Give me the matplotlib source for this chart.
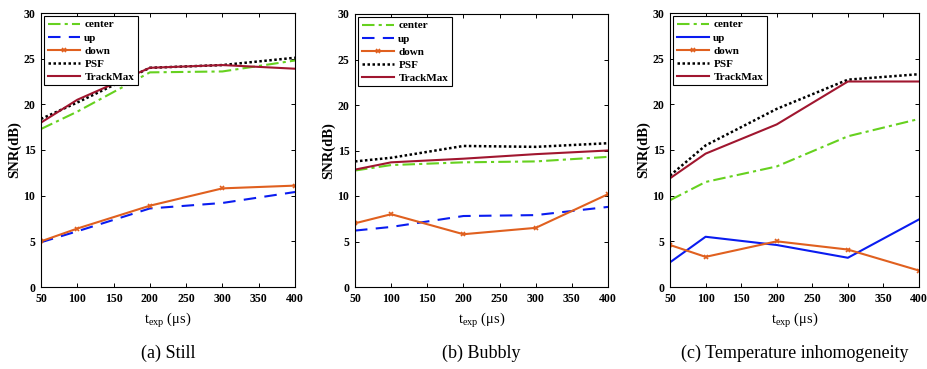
import matplotlib
matplotlib.use("Agg")
import matplotlib.pyplot as plt

plt.rcParams['font.family'] = ['Liberation Serif', 'DejaVu Serif']
plt.rcParams['mathtext.fontset'] = 'custom'
plt.rcParams['mathtext.rm'] = 'Liberation Serif'
plt.rcParams['mathtext.it'] = 'Liberation Serif'
plt.rcParams['mathtext.bf'] = 'Liberation Serif:bold'

x = [50, 100, 200, 300, 400]
series_names = ['center', 'up', 'down', 'PSF', 'TrackMax']

a_center = [17.3, 19.2, 23.5, 23.6, 24.8]
a_up = [4.9, 6.1, 8.6, 9.2, 10.4]
a_down = [5.0, 6.4, 8.9, 10.8, 11.1]
a_psf = [18.4, 20.2, 24.0, 24.3, 25.1]
a_track = [18.0, 20.5, 24.0, 24.3, 23.9]

b_center = [12.8, 13.4, 13.7, 13.8, 14.3]
b_up = [6.2, 6.6, 7.8, 7.9, 8.8]
b_down = [7.0, 8.0, 5.8, 6.5, 10.2]
b_psf = [13.8, 14.2, 15.5, 15.4, 15.8]
b_track = [12.9, 13.7, 14.1, 14.6, 15.0]

c_center = [9.5, 11.5, 13.2, 16.5, 18.4]
c_up = [2.7, 5.5, 4.6, 3.2, 7.4]
c_down = [4.6, 3.3, 5.0, 4.1, 1.8]
c_psf = [12.2, 15.5, 19.5, 22.7, 23.3]
c_track = [11.9, 14.6, 17.8, 22.5, 22.5]

subtitles = ['(a) Still', '(b) Bubbly', '(c) Temperature inhomogeneity']
xticks = [50, 100, 150, 200, 250, 300, 350, 400]
yticks = [0, 5, 10, 15, 20, 25, 30]

panels = [
    (a_center, a_up, a_down, a_psf, a_track, '--'),
    (b_center, b_up, b_down, b_psf, b_track, '--'),
    (c_center, c_up, c_down, c_psf, c_track, '-'),
]

W, H = 928, 369
fig = plt.figure(figsize=(W / 100, H / 100), dpi=100)

boxes = [(41, 13, 295, 287), (355, 14, 608, 287), (670, 13, 919, 287)]

green = '#66d11f'
blue = '#0a1cf0'
orange = '#e0601f'
darkred = '#a0162f'

for i, ((cen, up, dn, psf, tm, upls), (l, t, r, b)) in enumerate(zip(panels, boxes)):
    ax = fig.add_axes([l / W, 1 - b / H, (r - l) / W, (b - t) / H])
    ax.plot(x, cen, color=green, ls=(0, (6, 2, 1.5, 2)), lw=1.5, label='center')
    if upls == '--':
        ax.plot(x, up, color=blue, ls=(0, (6, 4)), lw=1.5, label='up')
    else:
        ax.plot(x, up, color=blue, ls='-', lw=1.5, label='up')
    ax.plot(x, dn, color=orange, ls='-', lw=1.5, marker='x', ms=3.5, mew=1.2, label='down')
    ax.plot(x, psf, color='black', ls=(0, (1, 1)), lw=1.8, label='PSF')
    ax.plot(x, tm, color=darkred, ls='-', lw=1.5, label='TrackMax')
    ax.set_xlim(50, 400)
    ax.set_ylim(0, 30)
    ax.set_xticks(xticks)
    ax.set_yticks(yticks)
    ax.tick_params(direction='in', length=3, width=0.7, labelsize=8.5, top=True, right=True, pad=4)
    for lab in ax.get_xticklabels() + ax.get_yticklabels():
        lab.set_fontweight('bold')
    for s in ax.spines.values():
        s.set_linewidth(0.8)
    ax.set_ylabel('SNR(dB)', fontsize=10.5, fontweight='bold', labelpad=2)
    ax.set_xlabel(r'$\mathrm{t_{exp}}$ (μs)', fontsize=10.5, labelpad=5)
    leg = ax.legend(loc='upper left', frameon=True, fancybox=False,
                    edgecolor='black', framealpha=1, borderpad=0.3, labelspacing=0.3,
                    handlelength=2.9, handletextpad=0.4, borderaxespad=0.3,
                    prop={'weight': 'bold', 'size': 8})
    leg.get_frame().set_linewidth(0.8)
    fig.text(((l + r) / 2) / W, 1 - 353 / H, subtitles[i], ha='center', va='center', fontsize=13)

fig.savefig('out.png', dpi=100)
